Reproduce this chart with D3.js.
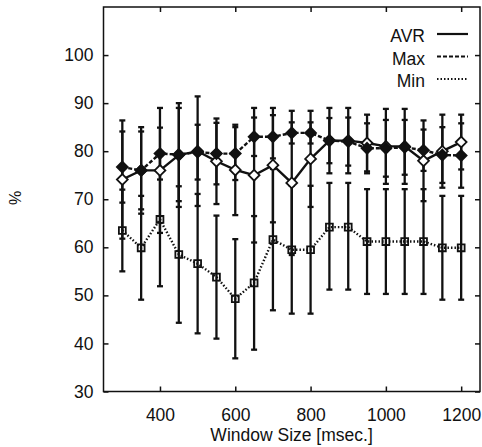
<!DOCTYPE html>
<html lang="en">
<head>
<meta charset="UTF-8">
<title>Window Size vs %</title>
<style>
    body { margin: 0; background: #fff; }
    svg text { font-family: "Liberation Sans", Arial, sans-serif; fill: #111; }
    .axis text { font-size: 17.5px; }
    .axis line { stroke: #111; stroke-width: 1.5px; }
    .axis .domain { display: none; }
</style>
</head>
<body>
<script src="https://d3js.org/d3.v7.min.js"></script>
<script>
    // window sizes in msec
    const windowSizes = [300, 350, 400, 450, 500, 550, 600, 650, 700, 750, 800, 850, 900, 950, 1000, 1050, 1100, 1150, 1200];

    // AVR series (solid line, open diamonds)
    const avr     = [74.1, 76.0, 76.0, 79.2, 80.0, 77.9, 76.1, 75.0, 77.1, 73.4, 78.4, 82.2, 82.2, 81.7, 81.0, 81.0, 78.0, 80.0, 81.9];
    const avrLow  = [61.8, 67.0, 63.0, 68.4, 68.6, 69.0, 66.7, 61.0, 65.2, 58.4, 68.4, 75.4, 75.4, 75.8, 73.2, 73.2, 69.6, 72.4, 76.2];
    const avrHigh = [86.4, 85.0, 89.0, 90.0, 91.4, 86.8, 85.5, 89.0, 89.0, 88.4, 88.4, 89.0, 89.0, 87.6, 88.8, 88.8, 86.4, 87.6, 87.6];

    // Max series (dashed line, filled diamonds)
    const maxv    = [76.7, 76.0, 79.5, 79.3, 79.8, 79.5, 79.5, 83.0, 83.0, 83.8, 83.8, 82.2, 82.0, 80.6, 80.6, 80.8, 80.2, 79.2, 79.1];
    const maxLow  = [69.3, 67.9, 74.1, 69.6, 74.1, 73.1, 74.0, 79.0, 78.5, 81.6, 81.6, 77.5, 77.0, 75.4, 74.7, 75.1, 75.9, 73.4, 72.4];
    const maxHigh = [84.1, 84.1, 84.9, 89.0, 85.5, 85.9, 85.0, 87.0, 87.5, 86.0, 86.0, 86.9, 87.0, 85.8, 86.5, 86.5, 84.5, 85.0, 85.8];

    // Min series (dotted line, open squares)
    const minv    = [63.5, 59.9, 65.8, 58.5, 56.6, 53.8, 49.3, 52.6, 61.6, 59.5, 59.5, 64.2, 64.2, 61.2, 61.2, 61.2, 61.2, 59.9, 59.9];
    const minLow  = [55.0, 49.1, 51.9, 44.3, 42.1, 41.0, 36.9, 38.7, 46.9, 46.2, 46.2, 51.2, 51.2, 50.3, 50.3, 50.3, 50.3, 49.1, 49.1];
    const minHigh = [72.0, 70.7, 79.7, 72.7, 71.1, 66.6, 61.7, 66.5, 76.3, 72.8, 72.8, 73.4, 73.4, 72.1, 72.1, 72.1, 72.1, 70.7, 70.7];

    const xTicks = [400, 600, 800, 1000, 1200];
    const yTicks = [30, 40, 50, 60, 70, 80, 90, 100];
    const legendNames = ["AVR", "Max", "Min"];

    const W = 482, H = 447;
    const margin = { top: 7, right: 2, bottom: 55.5, left: 103.5 };
    const width = W - margin.left - margin.right;
    const height = H - margin.top - margin.bottom;

    const svg = d3.select("body").append("svg")
        .attr("width", W)
        .attr("height", H);

    const g = svg.append("g")
        .attr("transform", "translate(" + margin.left + "," + margin.top + ")");

    const x = d3.scaleLinear().domain([250, 1250]).range([0, width]);
    const y = d3.scaleLinear().domain([30, 110]).range([height, 0]);

    // axes, ticks pointing inwards like gnuplot
    g.append("g").attr("class", "axis")
        .call(d3.axisLeft(y).tickValues(yTicks).tickSize(-5).tickPadding(10));
    g.append("g").attr("class", "axis")
        .attr("transform", "translate(" + width + ",0)")
        .call(d3.axisRight(y).tickValues(yTicks).tickSize(-5).tickFormat(""));
    g.append("g").attr("class", "axis")
        .attr("transform", "translate(0," + height + ")")
        .call(d3.axisBottom(x).tickValues(xTicks).tickSize(-5).tickPadding(17).tickFormat(d3.format("d")));
    g.append("g").attr("class", "axis")
        .call(d3.axisTop(x).tickValues(xTicks).tickSize(-5).tickFormat(""));

    g.append("rect")
        .attr("width", width)
        .attr("height", height)
        .attr("fill", "none")
        .attr("stroke", "#111")
        .attr("stroke-width", 1.5);

    const series = [
        { name: "AVR", vals: avr, lo: avrLow, hi: avrHigh, dash: null, marker: "openDiamond" },
        { name: "Max", vals: maxv, lo: maxLow, hi: maxHigh, dash: "4,2", marker: "diamond" },
        { name: "Min", vals: minv, lo: minLow, hi: minHigh, dash: "1.5,2", marker: "square" }
    ];

    // error bars first
    series.forEach(s => {
        const eb = g.append("g").attr("stroke", "#111").attr("stroke-width", 2.3);
        windowSizes.forEach((w, i) => {
            eb.append("line")
                .attr("x1", x(w)).attr("x2", x(w))
                .attr("y1", y(s.lo[i])).attr("y2", y(s.hi[i]));
            [s.lo[i], s.hi[i]].forEach(v => {
                eb.append("line")
                    .attr("x1", x(w) - 3).attr("x2", x(w) + 3)
                    .attr("y1", y(v)).attr("y2", y(v));
            });
        });
    });

    const line = d3.line()
        .x(d => x(d[0]))
        .y(d => y(d[1]));

    series.forEach(s => {
        g.append("path")
            .datum(windowSizes.map((w, i) => [w, s.vals[i]]))
            .attr("fill", "none")
            .attr("stroke", "#111")
            .attr("stroke-width", 2.4)
            .attr("stroke-dasharray", s.dash)
            .attr("d", line);
    });

    const diamond = d3.symbol().type(d3.symbolDiamond2).size(75);
    const square = d3.symbol().type(d3.symbolSquare2).size(60);

    series.forEach(s => {
        const m = g.append("g");
        windowSizes.forEach((w, i) => {
            const p = m.append("path")
                .attr("transform", "translate(" + x(w) + "," + y(s.vals[i]) + ")")
                .attr("stroke", "#111")
                .attr("stroke-width", 1.8);
            if (s.marker === "square") {
                p.attr("d", square).attr("fill", "none");
            } else if (s.marker === "diamond") {
                p.attr("d", diamond).attr("fill", "#111");
            } else {
                p.attr("d", diamond).attr("fill", "#fff");
            }
        });
    });

    // legend, top right
    const legend = g.append("g");
    legendNames.forEach((name, i) => {
        const s = series[i];
        const ly = 35 + i * 22.5;
        legend.append("text")
            .attr("x", 425 - margin.left)
            .attr("y", ly)
            .attr("text-anchor", "end")
            .style("font-size", "17.5px")
            .text(name);
        legend.append("line")
            .attr("x1", 437 - margin.left).attr("x2", 468 - margin.left)
            .attr("y1", ly - 8).attr("y2", ly - 8)
            .attr("stroke", "#111")
            .attr("stroke-width", 2.2)
            .attr("stroke-dasharray", s.dash);
    });

    // axis titles
    svg.append("text")
        .attr("x", margin.left + x(800) - 19)
        .attr("y", 441)
        .attr("text-anchor", "middle")
        .style("font-size", "17.5px")
        .text("Window Size [msec.]");

    svg.append("text")
        .attr("transform", "translate(21,198) rotate(-90)")
        .attr("text-anchor", "middle")
        .style("font-size", "16px")
        .text("%");
</script>
</body>
</html>
